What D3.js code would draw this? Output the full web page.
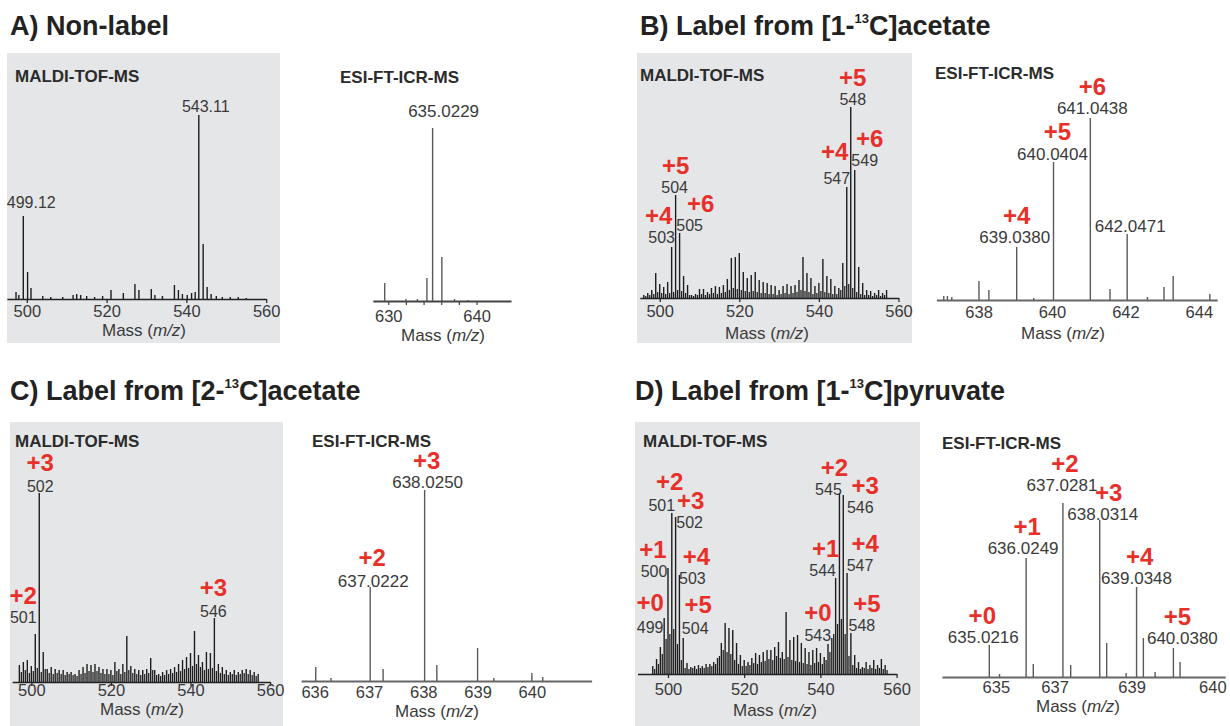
<!DOCTYPE html>
<html><head><meta charset="utf-8">
<script src="https://cdn.jsdelivr.net/npm/d3@7"></script>
<style>
body{margin:0;background:#fff}
svg{display:block;font-family:"Liberation Sans",Arial,Helvetica,sans-serif}
</style>
</head><body><script>
// ---------------- DATA ----------------
const panelTitles = [
  ["A) Non-label", "", ""],
  ["B) Label from [1-", "13", "C]acetate"],
  ["C) Label from [2-", "13", "C]acetate"],
  ["D) Label from [1-", "13", "C]pyruvate"]
];
const subtitles = ["MALDI-TOF-MS", "ESI-FT-ICR-MS"];

// A) Non-label, MALDI-TOF-MS
const aMaldiMz  = [497.3,498.0,499.12,500.2,501.05,504.0,506.0,509.0,511.6,512.5,513.5,515.0,517.0,519.0,521.1,524.2,527.1,528.1,531.2,532.1,534.0,537.0,538.0,539.0,540.2,541.3,542.2,543.11,544.2,545.2,546.2,547.5,549.0,551.0,553.0,555.0];
const aMaldiInt = [7,4,83,27,11,3,2,2,4,5,4,3,2,3,9,6,15,9,10,4,3,14,9,5,4,6,7,184,55,12,5,3,2,2,2,1];
const aMaldiTicks = [500,520,540,560];
const aMaldiLabelMz = [499.12,543.11];
const aMaldiLabelText = ["499.12","543.11"];

// A) ESI-FT-ICR-MS
const aEsiMz  = [629.6,632.0,633.3,634.38,635.0229,636.07,637.5,639.0];
const aEsiInt = [18,2,2,23,173,44,2,1];
const aEsiTicks = [630,632,634,636,638,640];
const aEsiTickLabels = ["630","","","","","640"];
const aEsiLabelMz = [635.0229];
const aEsiLabelText = ["635.0229"];

// B) [1-13C]acetate, MALDI
const bMaldiMz  = [496,497,498,499,500,501,502,503,504,505,506,507,508,509,510,511,512,513,514,515,516,517,518,519,520,521,522,523,524,525,526,527,528,529,530,531,532,533,534,535,536,537,538,539,540,541,542,543,544,545,546,547,548,549,550,551,552,553,554,555,556,557];
const bMaldiInt = [3,5,8,25,14,11,16,51,103,65,22,13,3,4,9,9,6,10,12,11,13,19,40,41,45,26,20,23,26,18,16,15,13,12,8,12,14,12,13,18,41,25,20,12,15,39,22,19,12,10,35,111,191,128,31,15,8,7,5,8,5,8];
const bMaldiMinorMz  = [496.5,497.5,498.5,499.5,500.5,501.5,502.5,503.5,504.5,505.5,506.5,507.5,508.5,509.5,510.5,511.5,512.5,513.5,514.5,515.5,516.5,517.5,518.5,519.5,520.5,521.5,522.5,523.5,524.5,525.5,526.5,527.5,528.5,529.5,530.5,531.5,532.5,533.5,534.5,535.5,536.5,537.5,538.5,539.5,540.5,541.5,542.5,543.5,544.5,545.5,546.5,547.5,548.5,549.5,550.5,551.5,552.5,553.5,554.5,555.5,556.5];
const bMaldiMinorInt = [2,3,4,6,5,4,5,6,8,7,5,3,2,3,4,3,4,5,4,5,6,8,10,9,8,7,6,7,6,5,5,4,4,3,4,5,4,5,6,8,7,6,4,5,7,6,5,4,4,8,12,14,10,6,4,3,3,2,3,2,3];
const bMaldiLabelMz = [503,504,505,547,548,549];
const bMaldiLabelText = ["503","504","505","547","548","549"];
const bMaldiIsoText = ["+4","+5","+6","+4","+5","+6"];

// B) ESI
const bEsiMz  = [637.05,637.15,637.27,638.01,638.28,639.038,639.5,640.0404,641.0438,641.58,642.0471,642.6,643.05,643.3,644.3];
const bEsiInt = [4,4,3,19,10,53,2,138,182,11,66,3,13,24,6];
const bEsiTicks = [638,640,642,644];
const bEsiLabelMz = [639.038,640.0404,641.0438,642.0471];
const bEsiLabelText = ["639.0380","640.0404","641.0438","642.0471"];
const bEsiIsoMz = [639.038,640.0404,641.0438];
const bEsiIsoText = ["+4","+5","+6"];

// C) [2-13C]acetate, MALDI
const cMaldiMz  = [497,498,499,500,501,502,503,504,505,506,507,508,509,510,511,512,513,514,515,516,517,518,519,520,521,522,523,524,525,526,527,528,529,530,531,532,533,534,535,536,537,538,539,540,541,542,543,544,545,546,547,548,549,550,551,552,553,554,555,556,557];
const cMaldiInt = [17,20,22,16,48,189,30,13,15,13,12,12,10,10,8,12,15,18,17,18,15,13,13,12,20,13,18,46,16,13,12,12,13,24,12,8,10,12,13,15,18,22,25,29,51,27,20,30,29,64,18,15,12,10,12,10,12,13,12,10,8];
const cMaldiMinorMz  = [497.5,498.5,499.5,500.5,501.5,502.5,503.5,504.5,505.5,506.5,507.5,508.5,509.5,510.5,511.5,512.5,513.5,514.5,515.5,516.5,517.5,518.5,519.5,520.5,521.5,522.5,523.5,524.5,525.5,526.5,527.5,528.5,529.5,530.5,531.5,532.5,533.5,534.5,535.5,536.5,537.5,538.5,539.5,540.5,541.5,542.5,543.5,544.5,545.5,546.5,547.5,548.5,549.5,550.5,551.5,552.5,553.5,554.5,555.5,556.5];
const cMaldiMinorInt = [10,12,9,11,14,10,13,9,8,9,8,7,8,7,6,8,9,11,10,11,9,8,8,7,11,8,10,12,9,8,7,8,9,12,7,6,7,8,9,10,11,13,14,16,18,15,12,13,14,11,9,8,7,8,7,8,9,8,7,6];
const cMaldiLabelMz = [501,502,546];
const cMaldiLabelText = ["501","502","546"];
const cMaldiIsoText = ["+2","+3","+3"];

// C) ESI
const cEsiMz  = [636.02,636.3,637.0222,637.26,638.025,638.25,639.0,639.3,640.0,640.2];
const cEsiInt = [14,3,94,12,191,16,33,3,8,4];
const cEsiTicks = [636,637,638,639,640];
const cEsiLabelMz = [637.0222,638.025];
const cEsiLabelText = ["637.0222","638.0250"];
const cEsiIsoText = ["+2","+3"];

// D) [1-13C]pyruvate, MALDI
const dMaldiMz  = [496,497,498,499,500,501,502,503,504,505,506,507,508,509,510,511,512,513,514,515,516,517,518,519,520,521,522,523,524,525,526,527,528,529,530,531,532,533,534,535,536,537,538,539,540,541,542,543,544,545,546,547,548,549,550,551,552,553,554,555,556,557];
const dMaldiInt = [8,15,27,56,106,161,157,99,36,11,7,8,9,8,10,10,12,16,31,51,46,44,31,19,14,12,16,21,19,22,24,24,27,32,22,62,34,37,39,31,26,22,24,26,21,17,30,36,96,181,179,101,41,19,12,7,12,9,14,9,15,9];
const dMaldiMinorMz  = [496.5,497.5,498.5,499.5,500.5,501.5,502.5,503.5,504.5,505.5,506.5,507.5,508.5,509.5,510.5,511.5,512.5,513.5,514.5,515.5,516.5,517.5,518.5,519.5,520.5,521.5,522.5,523.5,524.5,525.5,526.5,527.5,528.5,529.5,530.5,531.5,532.5,533.5,534.5,535.5,536.5,537.5,538.5,539.5,540.5,541.5,542.5,543.5,544.5,545.5,546.5,547.5,548.5,549.5,550.5,551.5,552.5,553.5,554.5,555.5,556.5,557.5];
const dMaldiMinorInt = [5,10,20,35,40,45,30,14,6,5,6,5,6,6,7,8,10,18,24,22,20,14,10,8,8,9,11,10,12,13,15,14,18,16,15,17,14,13,12,11,10,9,11,12,10,14,22,40,50,55,40,18,9,6,5,6,5,6,5,6,5,4];
const dMaldiLabelMz = [499,500,501,502,503,504,543,544,545,546,547,548];
const dMaldiLabelText = ["499","500","501","502","503","504","543","544","545","546","547","548"];
const dMaldiIsoText = ["+0","+1","+2","+3","+4","+5","+0","+1","+2","+3","+4","+5"];

// D) ESI
const dEsiMz  = [635.0216,635.3,636.0249,636.22,637.0281,637.24,638.0314,638.22,638.75,639.0348,639.22,639.54,640.038,640.22];
const dEsiInt = [32,3,119,13,174,12,157,34,4,90,39,5,29,15];
const dEsiTickPos = [635.2,636.8,638.9,641.1];
const dEsiTickLabels = ["635","637","639","640"];
const dEsiLabelMz = [635.0216,636.0249,637.0281,638.0314,639.0348,640.038];
const dEsiLabelText = ["635.0216","636.0249","637.0281","638.0314","639.0348","640.0380"];
const dEsiIsoText = ["+0","+1","+2","+3","+4","+5"];

// ---------------- LAYOUT ----------------
const W = 1230, H = 726;
const RED = "#e8302a", INK = "#2b2b2b", NUM = "#3a3a3a";
const svg = d3.select("body").append("svg").attr("width", W).attr("height", H);
svg.append("rect").attr("width", W).attr("height", H).attr("fill", "#fff");

const boxes = [[7,53,273,290],[637,53,275,290],[10,422,273,304],[635,422,285,304]];
svg.selectAll("rect.box").data(boxes).join("rect").attr("class","box")
  .attr("x", d => d[0]).attr("y", d => d[1]).attr("width", d => d[2]).attr("height", d => d[3])
  .attr("fill", "#e5e6e8");

const titlePos = [[10,35],[640,35],[10,400],[635,400]];
panelTitles.forEach((t, i) => {
  const tx = svg.append("text").attr("x", titlePos[i][0]).attr("y", titlePos[i][1])
    .attr("font-size", 27).attr("font-weight", "bold").attr("fill", "#222");
  tx.append("tspan").text(t[0]);
  if (t[1]) {
    tx.append("tspan").attr("font-size", 13).attr("dy", -12).text(t[1]);
    tx.append("tspan").attr("dy", 12).text(t[2]);
  }
});

function spectrum(S, L) {
  const x = d3.scaleLinear().domain(L.domain).range(L.range);
  const y = d3.scaleLinear().domain([0, d3.max(S.int)]).range([L.base, L.base - L.maxPx]);
  const g = svg.append("g");
  const peaks = S.mz.map((m, i) => ({ m, v: S.int[i] }));
  const minor = (S.minorMz || []).map((m, i) => ({ m, v: S.minorInt[i] }));
  // axis
  const ax = d3.axisBottom(x).tickValues(S.ticks).tickFormat((d, i) => S.tickLabels[i])
    .tickSize(L.tickSize).tickSizeOuter(0);
  const ag = g.append("g").attr("transform", `translate(0,${L.base})`).call(ax);
  ag.select(".domain").attr("stroke", L.axisColor).attr("stroke-width", L.axisW);
  ag.selectAll(".tick line").attr("stroke", L.axisColor).attr("stroke-width", 1.2);
  ag.selectAll(".tick text").attr("y", L.tickY - L.base).attr("dy", 0)
    .attr("font-size", 16.5).attr("fill", NUM).attr("font-family", "Liberation Sans, Arial, sans-serif");
  // sticks
  g.selectAll("line.minor").data(minor).join("line").attr("class","minor")
    .attr("x1", d => x(d.m)).attr("x2", d => x(d.m))
    .attr("y1", y(0)).attr("y2", d => y(d.v))
    .attr("stroke", L.color).attr("stroke-width", L.sw * 0.9);
  g.selectAll("line.pk").data(peaks).join("line").attr("class","pk")
    .attr("x1", d => x(d.m)).attr("x2", d => x(d.m))
    .attr("y1", y(0)).attr("y2", d => y(d.v))
    .attr("stroke", L.color).attr("stroke-width", L.sw);
  const top = m => {
    let best = peaks[0];
    peaks.forEach(p => { if (Math.abs(p.m - m) < Math.abs(best.m - m)) best = p; });
    return [x(best.m), y(best.v)];
  };
  // number labels
  S.labelMz.forEach((m, i) => {
    const [px, py] = top(m);
    g.append("text").attr("x", px + L.lab[i][0]).attr("y", py + L.lab[i][1])
      .attr("text-anchor", "middle").attr("font-size", L.labSize).attr("fill", NUM).text(S.labelText[i]);
  });
  (S.isoText || []).forEach((t, i) => {
    const [px, py] = top(S.isoMz[i]);
    g.append("text").attr("x", px + L.iso[i][0]).attr("y", py + L.iso[i][1])
      .attr("text-anchor", "middle").attr("font-size", 24).attr("font-weight", "bold")
      .attr("fill", RED).text(t);
  });
  // subtitle
  g.append("text").attr("x", L.sub[0]).attr("y", L.sub[1]).attr("font-size", 17)
    .attr("font-weight", "bold").attr("fill", INK).text(S.subtitle);
  // x-axis title
  const mt = g.append("text").attr("x", L.mass[0]).attr("y", L.mass[1]).attr("text-anchor", "middle")
    .attr("font-size", 17).attr("fill", NUM);
  mt.append("tspan").text("Mass (");
  mt.append("tspan").attr("font-style", "italic").text("m/z");
  mt.append("tspan").text(")");
}

const MALDI = { color: "#1d1d1d", sw: 1.4, axisColor: "#222", axisW: 1.6, labSize: 16 };
const ESI = { color: "#5a5a5a", sw: 1.4, axisColor: "#666", axisW: 1.8, labSize: 17 };

// A MALDI
spectrum(
  { mz: aMaldiMz, int: aMaldiInt, ticks: aMaldiTicks, tickLabels: aMaldiTicks.map(String),
    labelMz: aMaldiLabelMz, labelText: aMaldiLabelText, subtitle: subtitles[0] },
  Object.assign({}, MALDI, { domain: [495, 560], range: [6.85, 266.2], base: 299, maxPx: 184,
    tickSize: 4, tickY: 317, sub: [15, 82], mass: [144, 336], lab: [[8, -8], [7, -3]] }));
// A ESI
spectrum(
  { mz: aEsiMz, int: aEsiInt, ticks: aEsiTicks, tickLabels: aEsiTickLabels,
    labelMz: aEsiLabelMz, labelText: aEsiLabelText, subtitle: subtitles[1] },
  Object.assign({}, ESI, { axisColor: "#444", axisW: 2.2, domain: [628.25, 643.9], range: [372.8, 511.0],
    base: 301, maxPx: 173, tickSize: 4, tickY: 322, sub: [340, 83], mass: [443, 341], lab: [[11, -11]] }));
// B MALDI
spectrum(
  { mz: bMaldiMz, int: bMaldiInt, minorMz: bMaldiMinorMz, minorInt: bMaldiMinorInt,
    ticks: aMaldiTicks, tickLabels: aMaldiTicks.map(String),
    labelMz: bMaldiLabelMz, labelText: bMaldiLabelText, isoMz: bMaldiLabelMz, isoText: bMaldiIsoText,
    subtitle: subtitles[0] },
  Object.assign({}, MALDI, { domain: [495, 560], range: [639.8, 898.5], base: 298, maxPx: 191,
    tickSize: 4, tickY: 317, sub: [640, 81], mass: [767, 339],
    lab: [[-10, -4], [-1, -2], [10, -2], [-10, -3], [2, -2], [10, -4]],
    iso: [[-13, -23], [0, -21], [21, -21], [-12, -27], [2, -21], [15, -23]] }));
// B ESI
spectrum(
  { mz: bEsiMz, int: bEsiInt, ticks: bEsiTicks, tickLabels: bEsiTicks.map(String),
    labelMz: bEsiLabelMz, labelText: bEsiLabelText, isoMz: bEsiIsoMz, isoText: bEsiIsoText,
    subtitle: subtitles[1] },
  Object.assign({}, ESI, { domain: [636.85, 644.5], range: [936.4, 1217.2], base: 300, maxPx: 182,
    tickSize: 0, tickY: 318, sub: [935, 79], mass: [1063, 339],
    lab: [[-2, -4], [-1, -2], [2, -4], [3, -2]], iso: [[0, -23], [4, -22], [2, -23]] }));
// C MALDI
spectrum(
  { mz: cMaldiMz, int: cMaldiInt, minorMz: cMaldiMinorMz, minorInt: cMaldiMinorInt,
    ticks: aMaldiTicks, tickLabels: aMaldiTicks.map(String),
    labelMz: cMaldiLabelMz, labelText: cMaldiLabelText, isoMz: cMaldiLabelMz, isoText: cMaldiIsoText,
    subtitle: subtitles[0] },
  Object.assign({}, MALDI, { domain: [495.2, 560], range: [12.2, 270.1], base: 682, maxPx: 189,
    tickSize: 4, tickY: 696, sub: [15, 447], mass: [142, 715],
    lab: [[-12, -11], [1, -1], [-1, -1]], iso: [[-12, -30], [1, -22], [-1, -22]] }));
// C ESI
spectrum(
  { mz: cEsiMz, int: cEsiInt, ticks: cEsiTicks, tickLabels: cEsiTicks.map(String),
    labelMz: cEsiLabelMz, labelText: cEsiLabelText, isoMz: cEsiLabelMz, isoText: cEsiIsoText,
    subtitle: subtitles[1] },
  Object.assign({}, ESI, { domain: [635.75, 641.1], range: [301.1, 591.6], base: 681, maxPx: 191,
    tickSize: 0, tickY: 698, sub: [312, 447], mass: [437, 717],
    lab: [[3, 0], [3, -2]], iso: [[2, -21], [2, -21]] }));
// D MALDI
spectrum(
  { mz: dMaldiMz, int: dMaldiInt, minorMz: dMaldiMinorMz, minorInt: dMaldiMinorInt,
    ticks: aMaldiTicks, tickLabels: aMaldiTicks.map(String),
    labelMz: dMaldiLabelMz, labelText: dMaldiLabelText, isoMz: dMaldiLabelMz, isoText: dMaldiIsoText,
    subtitle: subtitles[0] },
  Object.assign({}, MALDI, { domain: [492, 560], range: [637.5, 896.6], base: 674, maxPx: 181,
    tickSize: 4, tickY: 695, sub: [643, 447], mass: [775, 716],
    lab: [[-14, 15], [-14, 9], [-10, -2], [14, 11], [13, 9], [12, -4], [-14, 3], [-13, -2], [-11, 2], [17, 18], [13, -2], [11, -2]],
    iso: [[-14, -7], [-15, -10], [-2, -23], [15, -8], [17, -10], [15, -25], [-14, -17], [-10, -21], [-5, -17], [22, -1], [18, -21], [16, -21]] }));
// D ESI
spectrum(
  { mz: dEsiMz, int: dEsiInt, ticks: dEsiTickPos, tickLabels: dEsiTickLabels,
    labelMz: dEsiLabelMz, labelText: dEsiLabelText, isoMz: dEsiLabelMz, isoText: dEsiIsoText,
    subtitle: subtitles[1] },
  Object.assign({}, ESI, { domain: [633.73, 641.45], range: [941.9, 1225.2], base: 677, maxPx: 174,
    tickSize: 0, tickY: 693, sub: [942, 449], mass: [1078, 712],
    lab: [[-6, -2], [-3, -4], [-1, -12], [3, 0], [0, -3], [9, -4]],
    iso: [[-7, -21], [1, -23], [2, -31], [9, -19], [3, -22], [4, -23]] }));
</script></body></html>
